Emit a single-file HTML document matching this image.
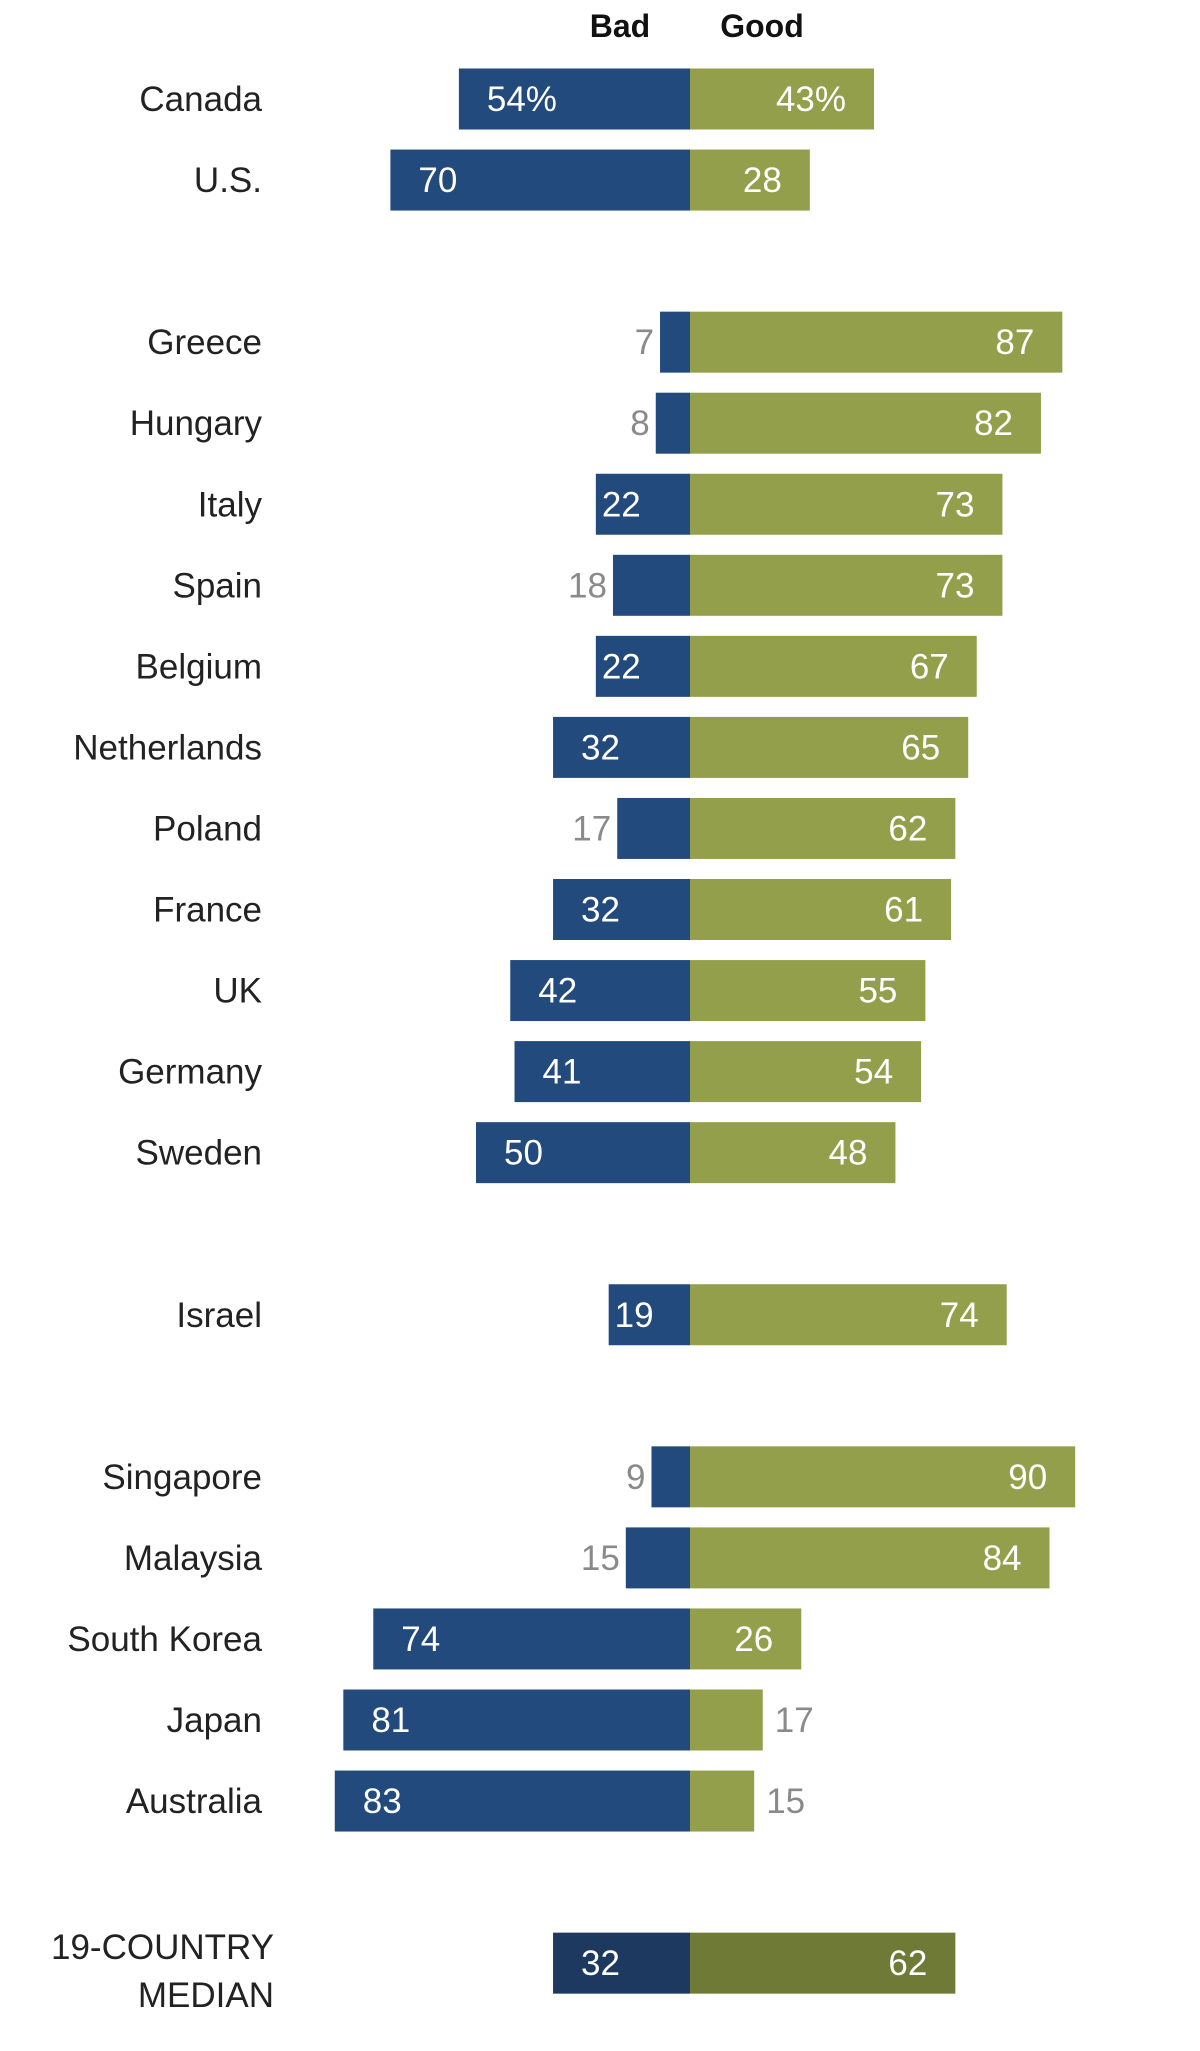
<!DOCTYPE html>
<html><head><meta charset="utf-8"><style>
html,body{margin:0;padding:0;background:#fff;}
svg{display:block;font-family:"Liberation Sans",sans-serif;}
</style></head><body>
<svg id="chart" width="1200" height="2051" viewBox="0 0 1200 2051" xmlns="http://www.w3.org/2000/svg">
<text x="620" y="37" font-size="32" font-weight="bold" text-anchor="middle" fill="#111">Bad</text>
<text x="762" y="37" font-size="32" font-weight="bold" text-anchor="middle" fill="#111">Good</text>
</svg>
<script>
const countries = ["Canada","U.S.","Greece","Hungary","Italy","Spain","Belgium","Netherlands","Poland","France","UK","Germany","Sweden","Israel","Singapore","Malaysia","South Korea","Japan","Australia","19-COUNTRY|MEDIAN"];
const badValues = [54,70,7,8,22,18,22,32,17,32,42,41,50,19,9,15,74,81,83,32];
const goodValues = [43,28,87,82,73,73,67,65,62,61,55,54,48,74,90,84,26,17,15,62];
const slots = [0,1,3,4,5,6,7,8,9,10,11,12,13,15,17,18,19,20,21,23];

const svg = document.getElementById('chart');
const NS = 'http://www.w3.org/2000/svg';
const x0 = 690, pxPerUnit = 4.28;
const xScale = v => v * pxPerUnit;
const yScale = s => 99 + s * 81.05;
const barH = 61;

function mk(tag, attrs){ const e = document.createElementNS(NS, tag); for (const k in attrs) e.setAttribute(k, attrs[k]); svg.appendChild(e); return e; }

countries.forEach((c, i) => {
  const cy = yScale(slots[i]);
  const isMedian = i === countries.length - 1;
  const bw = xScale(badValues[i]), gw = xScale(goodValues[i]);
  const bad = mk('rect', {x: x0 - bw, y: cy - barH/2, width: bw, height: barH, fill: isMedian ? '#1d3960' : '#234a7c'});
  
  
  const good = mk('rect', {x: x0, y: cy - barH/2, width: gw, height: barH, fill: isMedian ? '#6f7a37' : '#949f4b'});
  
  
  const suffix = i === 0 ? '%' : '';
  let t;
  if (badValues[i] >= 19) {
    t = mk('text', {x: x0 - bw + (badValues[i] < 25 ? 6 : 28), y: cy + 12, 'font-size': 35, fill: '#fff'});
  } else {
    t = mk('text', {x: x0 - bw - 6, y: cy + 12, 'font-size': 35, fill: '#8a8a8a', 'text-anchor': 'end'});
  }
  t.textContent = badValues[i] + suffix;
  
  
  let g;
  if (goodValues[i] >= 20) {
    g = mk('text', {x: x0 + gw - 28, y: cy + 12, 'font-size': 35, fill: '#fff', 'text-anchor': 'end'});
  } else {
    g = mk('text', {x: x0 + gw + 12, y: cy + 12, 'font-size': 35, fill: '#8a8a8a'});
  }
  g.textContent = goodValues[i] + suffix;
  
  
  const parts = c.split('|');
  parts.forEach((p, j) => {
    const off = parts.length > 1 ? (j === 0 ? -4 : 44) : 12;
    const l = mk('text', {x: parts.length > 1 ? 274 : 262, y: cy + off, 'font-size': 35, fill: '#222', 'text-anchor': 'end'});
    l.textContent = p;
    
    
  });
});
</script>
</body></html>
